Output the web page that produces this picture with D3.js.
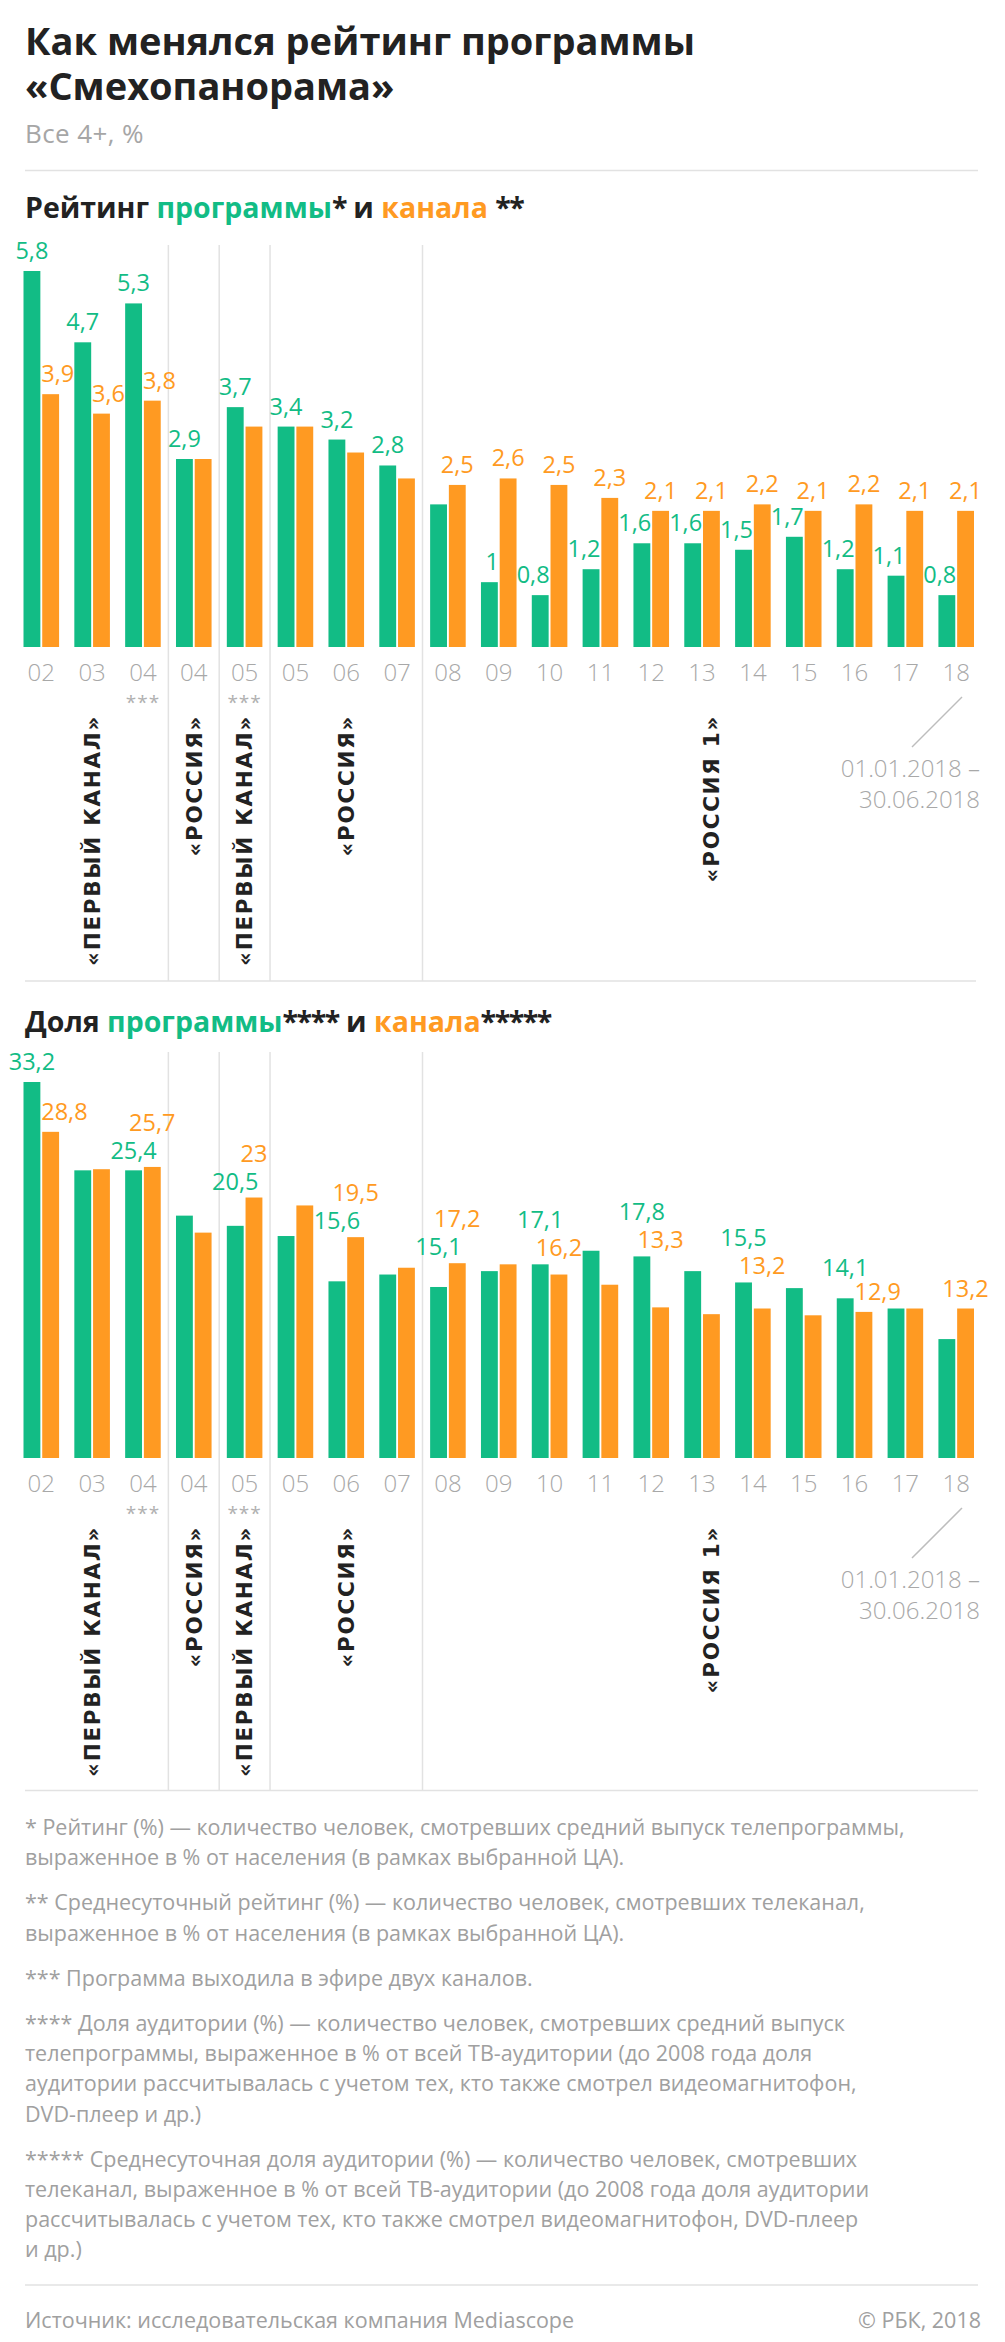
<!DOCTYPE html>
<meta charset="utf-8">
<script src="https://d3js.org/d3.v7.min.js"></script>
<style>
body { margin: 0; background: #fff; }
svg { display: block; font-family: "Open Sans", Roboto, sans-serif; }
.num { font-weight: 400; font-size: 23.5px; }
.cat { font-weight: 300; font-size: 24px; fill: #a8a8a8; }
.note { font-size: 21.5px; fill: #a0a0a0; }
.chan { font-family: "DejaVu Sans", sans-serif; font-weight: bold; font-size: 21.5px; letter-spacing: 1.7px; fill: #222; }
</style>
<div id="chart"></div>
<script>

// years on the x axis (two channels in 2004 and 2005)
const categories = ['02','03','04','04','05','05','06','07','08','09','10','11','12','13','14','15','16','17','18'];

// rating, % (all 4+)
const ratingProgram = [5.8, 4.7, 5.3, 2.9, 3.7, 3.4, 3.2, 2.8, 2.2, 1, 0.8, 1.2, 1.6, 1.6, 1.5, 1.7, 1.2, 1.1, 0.8];
const ratingChannel = [3.9, 3.6, 3.8, 2.9, 3.4, 3.4, 3.0, 2.6, 2.5, 2.6, 2.5, 2.3, 2.1, 2.1, 2.2, 2.1, 2.2, 2.1, 2.1];
const ratingProgramLabeled = [0,1,2,3,4,5,6,7,9,10,11,12,13,14,15,16,17,18];
const ratingChannelLabeled = [0,1,2,8,9,10,11,12,13,14,15,16,17,18];

// audience share, %
const shareProgram = [33.2, 25.4, 25.4, 21.4, 20.5, 19.6, 15.6, 16.2, 15.1, 16.5, 17.1, 18.3, 17.8, 16.5, 15.5, 15.0, 14.1, 13.2, 10.5];
const shareChannel = [28.8, 25.5, 25.7, 19.9, 23, 22.3, 19.5, 16.8, 17.2, 17.1, 16.2, 15.3, 13.3, 12.7, 13.2, 12.6, 12.9, 13.2, 13.2];
const shareProgramLabeled = [0,2,4,6,8,10,12,14,16];
const shareChannelLabeled = [0,2,4,6,8,10,12,14,16,18];

// years when the show ran on two channels (***)
const twoChannels = [2, 4];

// which channel aired it
const periods = [
	{name: '«ПЕРВЫЙ КАНАЛ»', from: 0, to: 2},
	{name: '«РОССИЯ»', from: 3, to: 3},
	{name: '«ПЕРВЫЙ КАНАЛ»', from: 4, to: 4},
	{name: '«РОССИЯ»', from: 5, to: 7},
	{name: '«РОССИЯ 1»', from: 8, to: 18},
];

const footnotes = [
	['* Рейтинг (%) — количество человек, смотревших средний выпуск телепрограммы,',
	 'выраженное в % от населения (в рамках выбранной ЦА).'],
	['** Среднесуточный рейтинг (%) — количество человек, смотревших телеканал,',
	 'выраженное в % от населения (в рамках выбранной ЦА).'],
	['*** Программа выходила в эфире двух каналов.'],
	['**** Доля аудитории (%) — количество человек, смотревших средний выпуск',
	 'телепрограммы, выраженное в % от всей ТВ-аудитории (до 2008 года доля',
	 'аудитории рассчитывалась с учетом тех, кто также смотрел видеомагнитофон,',
	 'DVD-плеер и др.)'],
	['***** Среднесуточная доля аудитории (%) — количество человек, смотревших',
	 'телеканал, выраженное в % от всей ТВ-аудитории (до 2008 года доля аудитории',
	 'рассчитывалась с учетом тех, кто также смотрел видеомагнитофон, DVD-плеер',
	 'и др.)'],
];

const width = 1005, height = 2342;
const green = '#12bc85', orange = '#ff9a22', ink = '#222', rule = '#e2e2e2';

const svg = d3.select('#chart').append('svg')
	.attr('width', width)
	.attr('height', height);

const x = d3.scaleBand()
	.domain(d3.range(categories.length))
	.range([23.5, 974])
	.paddingInner(0.3)
	.paddingOuter(0);
const xSub = d3.scaleBand()
	.domain(['prog', 'chan'])
	.range([0, x.bandwidth()])
	.paddingInner(0.1);
const halfGap = x.step() * x.paddingInner() / 2;
const seps = periods.slice(1).map(p => x(p.from) - halfGap);

const fmt = v => String(v).replace('.', ',');

function hline(y, x1, x2) {
	svg.append('line')
		.attr('x1', x1).attr('x2', x2)
		.attr('y1', y).attr('y2', y)
		.attr('stroke', rule).attr('stroke-width', 1.5);
}

function heading(y, parts) {
	const t = svg.append('text')
		.attr('x', 25).attr('y', y)
		.attr('font-size', 28.5).attr('font-weight', 700)
	// runs of asterisks are set a little tighter
	parts.forEach(p => t.append('tspan')
		.attr('fill', p[1])
		.attr('letter-spacing', /^\*+$/.test(p[0]) ? -1.5 : null)
		.text(p[0]));
}

// title
svg.append('text').attr('x', 25).attr('y', 55)
	.attr('font-size', 38).attr('font-weight', 700).attr('fill', ink)
	.text('Как менялся рейтинг программы');
svg.append('text').attr('x', 25).attr('y', 100)
	.attr('font-size', 38).attr('font-weight', 700).attr('fill', ink)
	.text('«Смехопанорама»');
svg.append('text').attr('x', 25).attr('y', 143)
	.attr('font-size', 26).attr('letter-spacing', 0.4).attr('fill', '#a6a6a6')
	.text('Все 4+, %');

hline(170.5, 25, 978);

function labelLayout(cfg, y, i) {
	const p = cfg.prog[i], c = cfg.chan[i];
	const bw = xSub.bandwidth();
	const px = x(i) + xSub('prog'), cx = x(i) + xSub('chan');
	const hasP = cfg.progLabeled.includes(i), hasC = cfg.chanLabeled.includes(i);
	const lp = {v: p, color: green, x: px + bw / 2, anchor: 'middle', y: y(p) - 12};
	const lc = {v: c, color: orange, x: cx + bw / 2, anchor: 'middle', y: y(c) - 12};
	const hi = p >= c ? lp : lc, lo = p >= c ? lc : lp;
	const side = cfg.stack == false || cfg.sideIdx.includes(i) || !(hasP && hasC);
	if (side) {
		// shorter bar's label moves off the taller neighbour
		if (c > p) { lp.x = px + bw + 1; lp.anchor = 'end'; }
		if (p > c) { lc.x = cx - 1; lc.anchor = 'start'; }
		if (hasP && hasC && lo.y - hi.y < 24) hi.y = lo.y - 24;
	} else {
		// stack both labels above the taller bar
		lo.y = y(Math.max(p, c)) - 8;
		hi.y = lo.y - 28;
	}
	const out = [];
	if (hasP) out.push(lp);
	if (hasC) out.push(lc);
	return out;
}

function drawPanel(cfg) {
	const y = d3.scaleLinear().domain([0, cfg.refValue]).range([cfg.base, cfg.refY]);
	const g = svg.append('g');

	g.selectAll('line.sep')
		.data(seps)
		.join('line')
		.attr('class', 'sep')
		.attr('x1', d => d).attr('x2', d => d)
		.attr('y1', cfg.lineTop).attr('y2', cfg.lineBottom)
		.attr('stroke', rule).attr('stroke-width', 1.5);

	const rows = categories.map((c, i) => ({i: i, prog: cfg.prog[i], chan: cfg.chan[i]}));
	const grp = g.selectAll('g.grp')
		.data(rows)
		.join('g')
		.attr('class', 'grp')
		.attr('transform', d => `translate(${x(d.i)},0)`);
	grp.selectAll('rect')
		.data(d => [{k: 'prog', v: d.prog}, {k: 'chan', v: d.chan}])
		.join('rect')
		.attr('x', d => xSub(d.k))
		.attr('width', xSub.bandwidth())
		.attr('y', d => y(d.v))
		.attr('height', d => y(0) - y(d.v))
		.attr('fill', d => d.k == 'prog' ? green : orange);

	const labels = d3.range(categories.length).flatMap(i => labelLayout(cfg, y, i));
	g.selectAll('text.num')
		.data(labels)
		.join('text')
		.attr('class', 'num')
		.attr('x', d => d.x).attr('y', d => d.y)
		.attr('text-anchor', d => d.anchor)
		.attr('fill', d => d.color)
		.text(d => fmt(d.v));

	g.selectAll('text.cat')
		.data(categories)
		.join('text')
		.attr('class', 'cat')
		.attr('x', (d, i) => x(i) + x.bandwidth() / 2)
		.attr('y', cfg.base + 34)
		.attr('text-anchor', 'middle')
		.text(d => d);

	g.selectAll('text.star')
		.data(twoChannels)
		.join('text')
		.attr('class', 'star')
		.attr('x', d => x(d) + x.bandwidth() / 2)
		.attr('y', cfg.base + 62)
		.attr('text-anchor', 'middle')
		.attr('font-size', 19).attr('letter-spacing', 1)
		.attr('fill', '#b0b0b0')
		.text('***');

	// channel names, rotated
	const bounds = [x(0) - halfGap].concat(seps, [1000]);
	g.selectAll('text.chan')
		.data(periods)
		.join('text')
		.attr('class', 'chan')
		.attr('transform', (d, i) => `translate(${(bounds[i] + bounds[i + 1]) / 2},${cfg.base + 68}) rotate(-90)`)
		.attr('text-anchor', 'end')
		.attr('dy', '0.36em')
		.text(d => d.name);

	// partial year note
	g.append('line')
		.attr('x1', 962).attr('y1', cfg.base + 50)
		.attr('x2', 912).attr('y2', cfg.base + 100)
		.attr('stroke', '#bdbdbd').attr('stroke-width', 1.5);
	['01.01.2018 –', '30.06.2018'].forEach((s, k) => {
		g.append('text')
			.attr('class', 'cat')
			.attr('x', 980).attr('y', cfg.base + 130 + k * 31)
			.attr('text-anchor', 'end')
			.text(s);
	});
}

heading(218, [['Рейтинг ', ink], ['программы', green], ['*', ink], [' и ', ink], ['канала', orange], [' ', ink], ['**', ink]]);
drawPanel({
	prog: ratingProgram, chan: ratingChannel,
	progLabeled: ratingProgramLabeled, chanLabeled: ratingChannelLabeled,
	refValue: 5.8, refY: 271, base: 647,
	lineTop: 245, lineBottom: 981,
	stack: false, sideIdx: [],
});

hline(981, 25, 976);

heading(1032, [['Доля ', ink], ['программы', green], ['****', ink], [' и ', ink], ['канала', orange], ['*****', ink]]);
drawPanel({
	prog: shareProgram, chan: shareChannel,
	progLabeled: shareProgramLabeled, chanLabeled: shareChannelLabeled,
	refValue: 33.2, refY: 1082, base: 1458,
	lineTop: 1052, lineBottom: 1790,
	stack: true, sideIdx: [0, 16],
});

hline(1790.5, 25, 978);

// footnotes
let fy = 1835;
footnotes.forEach(par => {
	par.forEach(line => {
		svg.append('text').attr('class', 'note').attr('x', 25).attr('y', fy).text(line);
		fy += 30.2;
	});
	fy += 15;
});

hline(2285, 25, 978);
svg.append('text').attr('class', 'note').attr('x', 25).attr('y', 2328)
	.text('Источник: исследовательская компания Mediascope');
svg.append('text').attr('class', 'note').attr('x', 981).attr('y', 2328)
	.attr('text-anchor', 'end')
	.text('© РБК, 2018');

</script>
